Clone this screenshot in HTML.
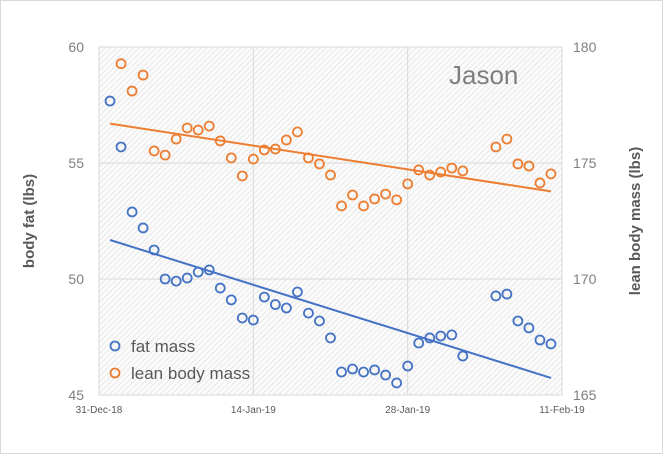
<!DOCTYPE html>
<html><head><meta charset="utf-8"><style>
html,body{margin:0;padding:0;background:#fff;}
svg{display:block;font-family:"Liberation Sans",sans-serif;}
</style></head><body>
<svg id="chart" width="663" height="454" viewBox="0 0 663 454" xmlns="http://www.w3.org/2000/svg">
<defs>
<pattern id="hatch" width="4" height="4" patternUnits="userSpaceOnUse" patternTransform="rotate(45)">
<rect width="4" height="4" fill="#fbfbfb"/>
<line x1="0" y1="0" x2="0" y2="4" stroke="#d6d6d6" stroke-width="1"/>
</pattern>
</defs>
<rect x="0.5" y="0.5" width="662" height="453" fill="#fff" stroke="#d9d9d9"/>
<rect x="99" y="47" width="463" height="348" fill="url(#hatch)" stroke="#d9d9d9"/>
<g id="grid"></g>
<g id="axes"></g>
<g id="marks"></g>
<text x="449" y="84" font-size="26" fill="#7f7f7f">Jason</text>
<text transform="translate(34,221) rotate(-90)" text-anchor="middle" font-size="15" font-weight="bold" fill="#595959">body fat (lbs)</text>
<text transform="translate(640,221) rotate(-90)" text-anchor="middle" font-size="15" font-weight="bold" fill="#595959">lean body mass (lbs)</text>
<g>
<circle cx="115" cy="346" r="4.5" fill="none" stroke="#4472c4" stroke-width="1.8"/>
<text x="131" y="352" font-size="17" fill="#595959">fat mass</text>
<circle cx="115" cy="373" r="4.5" fill="none" stroke="#ed7d31" stroke-width="1.8"/>
<text x="131" y="379" font-size="17" fill="#595959">lean body mass</text>
</g>
</svg>
<script>
const fatDays = [1,2,3,4,5,6,7,8,9,10,11,12,13,14,15,16,17,18,19,20,21,22,23,24,25,26,27,28,29,30,31,32,33,36,37,38,39,40,41];
const fatValues = [57.67,55.69,52.89,52.2,51.25,50.0,49.91,50.04,50.3,50.39,49.61,49.1,48.32,48.23,49.22,48.9,48.75,49.44,48.53,48.19,47.46,45.99,46.12,45.99,46.08,45.86,45.52,46.25,47.24,47.46,47.54,47.59,46.68,49.27,49.35,48.19,47.89,47.37,47.2];
const leanDays = [2,3,4,5,6,7,8,9,10,11,12,13,14,15,16,17,18,19,20,21,22,23,24,25,26,27,28,29,30,31,32,33,36,37,38,39,40,41];
const leanValues = [179.28,178.1,178.79,175.52,175.34,176.03,176.51,176.42,176.59,175.95,175.22,174.44,175.17,175.56,175.6,175.99,176.34,175.22,174.96,174.48,173.15,173.62,173.15,173.45,173.66,173.41,174.1,174.7,174.48,174.61,174.78,174.66,175.69,176.03,174.96,174.87,174.14,174.53];
const leftTicks = [45,50,55,60];
const rightTicks = [165,170,175,180];
const xTickDays = [0,14,28,42];
const xTickLabels = ["31-Dec-18","14-Jan-19","28-Jan-19","11-Feb-19"];

const X0=99,X1=562,Y0=395,Y1=47;
const xs = d => X0 + d*(X1-X0)/42;
const yL = v => Y0 - (v-45)*(Y0-Y1)/15;
const yR = v => Y0 - (v-165)*(Y0-Y1)/15;
const NS="http://www.w3.org/2000/svg";
function mk(tag, attrs, parent){const e=document.createElementNS(NS,tag);for(const k in attrs)e.setAttribute(k,attrs[k]);parent.appendChild(e);return e;}
const grid=document.getElementById('grid'), axes=document.getElementById('axes'), marks=document.getElementById('marks');

leftTicks.forEach((t,i)=>{
  if(t>45&&t<60){const g=mk('line',{x1:X0,x2:X1,y1:yL(t),y2:yL(t),stroke:'#d9d9d9'},grid);
  
  }
  const tx=mk('text',{x:84,y:yL(t)+5,'text-anchor':'end','font-size':14,fill:'#7f7f7f'},axes);
  tx.textContent=t;
  
  
});
rightTicks.forEach(t=>{
  const tx=mk('text',{x:573,y:yR(t)+5,'font-size':14,fill:'#7f7f7f'},axes);
  tx.textContent=t;
  
  
});
xTickDays.forEach((d,i)=>{
  if(d>0&&d<42){const g=mk('line',{x1:xs(d),x2:xs(d),y1:Y1,y2:Y0,stroke:'#d9d9d9'},grid);
  
  }
  const tx=mk('text',{x:xs(d),y:413,'text-anchor':'middle','font-size':10,fill:'#595959'},axes);
  tx.textContent=xTickLabels[i];
  
  
});

function fit(xa,ya){const n=xa.length;let sx=0,sy=0,sxx=0,sxy=0;for(let i=0;i<n;i++){sx+=xa[i];sy+=ya[i];sxx+=xa[i]*xa[i];sxy+=xa[i]*ya[i];}const b=(n*sxy-sx*sy)/(n*sxx-sx*sx);return [ (sy-b*sx)/n, b];}
const fF=fit(fatDays,fatValues), fLn=fit(leanDays,leanValues);
const t1=mk('line',{x1:xs(1),y1:yL(fF[0]+fF[1]*1),x2:xs(41),y2:yL(fF[0]+fF[1]*41),stroke:'#4472c4','stroke-width':2},marks);


const t2=mk('line',{x1:xs(1),y1:yR(fLn[0]+fLn[1]*1),x2:xs(41),y2:yR(fLn[0]+fLn[1]*41),stroke:'#ed7d31','stroke-width':2},marks);



fatDays.forEach((d,i)=>{
  const c=mk('circle',{cx:xs(d),cy:yL(fatValues[i]),r:4.5,fill:'none',stroke:'#4472c4','stroke-width':1.8},marks);
  
  
});
leanDays.forEach((d,i)=>{
  const c=mk('circle',{cx:xs(d),cy:yR(leanValues[i]),r:4.5,fill:'none',stroke:'#ed7d31','stroke-width':1.8},marks);
  
  
});
</script>
</body></html>
